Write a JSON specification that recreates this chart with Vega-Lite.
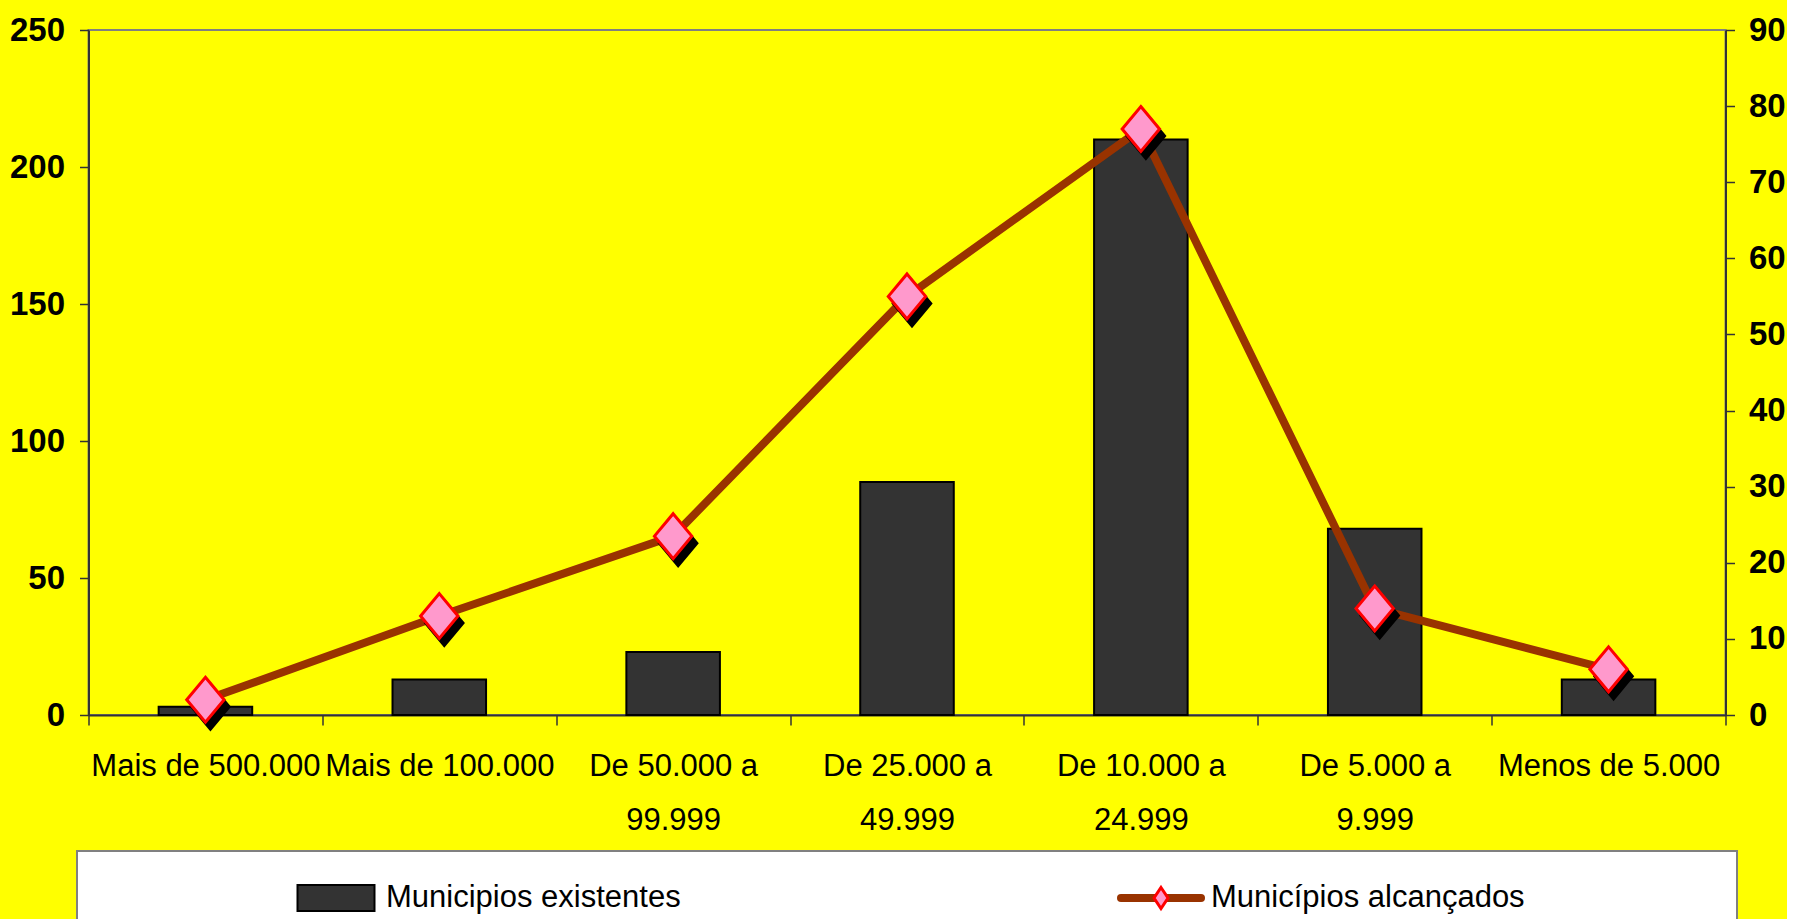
{
  "$schema": "https://vega.github.io/schema/vega-lite/v6.json",
  "background": "#ffff00",
  "padding": {"left": 8, "top": 13, "right": 0, "bottom": 0},
  "config": {
    "font": "Liberation Sans",
    "axis": {"labelFont": "Liberation Sans", "labelColor": "black", "domainColor": "#333333", "domainWidth": 2, "tickColor": "#333333", "tickWidth": 1.5, "grid": false, "title": null}
  },
  "datasets": {
    "principal": [
      {"faixa": "Mais de 500.000", "existentes": 3, "alcancados": 2},
      {"faixa": "Mais de 100.000", "existentes": 13, "alcancados": 13},
      {"faixa": "De 50.000 a 99.999", "existentes": 23, "alcancados": 23.5},
      {"faixa": "De 25.000 a 49.999", "existentes": 85, "alcancados": 55},
      {"faixa": "De 10.000 a 24.999", "existentes": 210, "alcancados": 77},
      {"faixa": "De 5.000 a 9.999", "existentes": 68, "alcancados": 14},
      {"faixa": "Menos de 5.000", "existentes": 13, "alcancados": 6}
    ],
    "legenda": [
      {"item": "Municipios existentes", "tipo": "barra"},
      {"item": "Municípios alcançados", "tipo": "linha"}
    ]
  },
  "bounds": "flush",
  "center": true,
  "spacing": 136,
  "vconcat": [
    {
      "width": 1637,
      "height": 685,
      "data": {"name": "principal"},
      "view": {"stroke": "#808080", "strokeWidth": 2},
      "encoding": {
        "x": {
          "field": "faixa", "type": "nominal", "sort": null,
          "scale": {"paddingInner": 0, "paddingOuter": 0},
          "axis": {
            "orient": "bottom", "tickBand": "extent", "tickSize": 10, "labelPadding": 26,
            "labelFontSize": 31, "labelFontWeight": "normal", "labelLineHeight": 54,
            "labelBaseline": "top", "labelAngle": 0, "labelLimit": 600, "labelOverlap": false,
            "labelExpr": "split(replace(datum.label, ' a ', ' a|'), '|')"
          }
        }
      },
      "layer": [
        {
          "mark": {"type": "bar", "fill": "#333333", "stroke": "black", "strokeWidth": 2, "width": {"band": 0.4}},
          "encoding": {
            "y": {
              "field": "existentes", "type": "quantitative",
              "scale": {"domain": [0, 250], "nice": false},
              "axis": {"orient": "left", "values": [0, 50, 100, 150, 200, 250], "tickSize": 9, "labelPadding": 15, "labelFontSize": 33, "labelFontWeight": "bold"}
            }
          }
        },
        {
          "encoding": {
            "y": {
              "field": "alcancados", "type": "quantitative",
              "scale": {"domain": [0, 90], "nice": false},
              "axis": {"orient": "right", "values": [0, 10, 20, 30, 40, 50, 60, 70, 80, 90], "tickSize": 9, "labelPadding": 14, "labelFontSize": 33, "labelFontWeight": "bold"}
            }
          },
          "layer": [
            {"mark": {"type": "line", "stroke": "#993300", "strokeWidth": 8, "strokeJoin": "round"}},
            {"mark": {"type": "point", "shape": "M0,-1.2L1,0L0,1.2L-1,0Z", "size": 1400, "filled": true, "fill": "black", "stroke": "black", "strokeWidth": 3, "opacity": 1, "xOffset": 5, "yOffset": 7}},
            {"mark": {"type": "point", "shape": "M0,-1.2L1,0L0,1.2L-1,0Z", "size": 1400, "filled": true, "fill": "#ff99cc", "stroke": "#ff0000", "strokeWidth": 3, "opacity": 1}}
          ]
        }
      ],
      "resolve": {"scale": {"y": "independent"}}
    },
    {
      "width": 1660,
      "height": 94,
      "data": {"name": "legenda"},
      "view": {"fill": "white", "stroke": "#808080", "strokeWidth": 2},
      "encoding": {
        "x": {"field": "item", "type": "nominal", "sort": null, "scale": {"type": "point", "padding": 0, "range": [259, 1084]}, "axis": null}
      },
      "layer": [
        {"transform": [{"filter": "datum.tipo == 'barra'"}], "mark": {"type": "point", "shape": "M-1,-0.34H1V0.34H-1Z", "size": 5929, "filled": true, "fill": "#333333", "stroke": "black", "strokeWidth": 2, "opacity": 1}},
        {"transform": [{"filter": "datum.tipo == 'linha'"}], "mark": {"type": "point", "shape": "M-1,0H1", "size": 6400, "filled": false, "stroke": "#993300", "strokeWidth": 8, "strokeCap": "round", "opacity": 1}},
        {"transform": [{"filter": "datum.tipo == 'linha'"}], "mark": {"type": "point", "shape": "M0,-1.5L1,0L0,1.5L-1,0Z", "size": 196, "filled": true, "fill": "#ff99cc", "stroke": "#ff0000", "strokeWidth": 3, "opacity": 1}},
        {"mark": {"type": "text", "align": "left", "baseline": "middle", "dx": 50, "fontSize": 31, "font": "Liberation Sans", "color": "black"}, "encoding": {"text": {"field": "item"}}}
      ]
    }
  ]
}
